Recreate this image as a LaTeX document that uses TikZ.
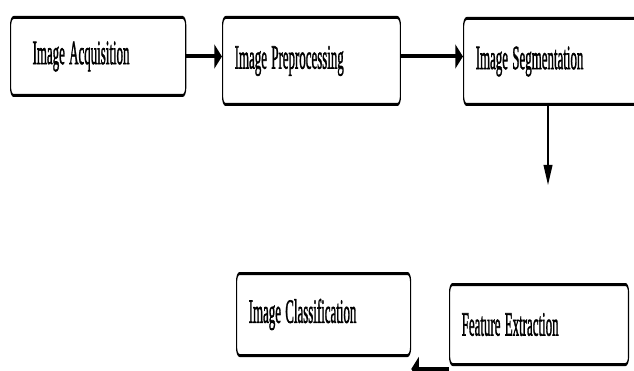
\documentclass[tikz,border=0pt]{standalone}
\usepackage{fontspec}
\setmainfont{Liberation Serif}
\newfontfamily\stagefont{Liberation Serif}[FakeBold = 2]
\usetikzlibrary{arrows.meta}

\tikzset{%
    stage/.style = {draw, rounded corners = 8pt, line width = 3pt,
        anchor = north west, inner xsep = 32pt, inner ysep = 0pt,
        align = left, font = \stagefont\fontsize{34}{38}\selectfont},
    flow/.style = {line width = 4pt,
        -{Triangle[length = 20pt, width = 23pt]}}
}

\begin{document}
\begin{tikzpicture}[%
        x = 1pt,
        y = -1pt
    ]
        % Frame of the page, 634 by 371.
        \useasboundingbox (0, 0) rectangle (634, 371);
        \clip (0, 0) rectangle (634, 371);

        % Everything is drawn wide and squeezed sideways.
        \begin{scope}[transform canvas = {xscale = 0.38}, x = 2.6316pt]
            % Top row of stages.
            \node[stage, inner xsep = 58pt, text width = 345pt, minimum height = 78pt]
                (Acquisition) at (10, 16) {Image Acquisition};
            \node[stage, text width = 404pt, minimum height = 87pt]
                (Preprocessing) at (222, 16) {Image Preprocessing};
            \node[stage, text width = 462pt, minimum height = 86pt]
                (Segmentation) at (463, 17) {Image Segmentation};

            % Bottom row of stages.
            \node[stage, text width = 394pt, minimum height = 82pt]
                (Classification) at (236, 272) {Image Classification};
            \node[stage, text width = 407pt, minimum height = 80pt]
                (Extraction) at (449, 283) {Feature Extraction};

            % Free end of the downward arrow.
            \coordinate (Down) at (548, 185);

            % Arrows between the stages.
            \draw[flow] (Acquisition.east) to (Acquisition.east -| Preprocessing.west);
            \draw[flow] (Acquisition.east -| Preprocessing.east) to (Acquisition.east -| Segmentation.west);
            \draw[flow] (Segmentation.south -| Down) to (Down);
            \draw[flow] ([yshift = -3pt] Extraction.south west)
                to ([yshift = -3pt] Extraction.south west -| Classification.east);
        \end{scope}
    \end{tikzpicture}
\end{document}
